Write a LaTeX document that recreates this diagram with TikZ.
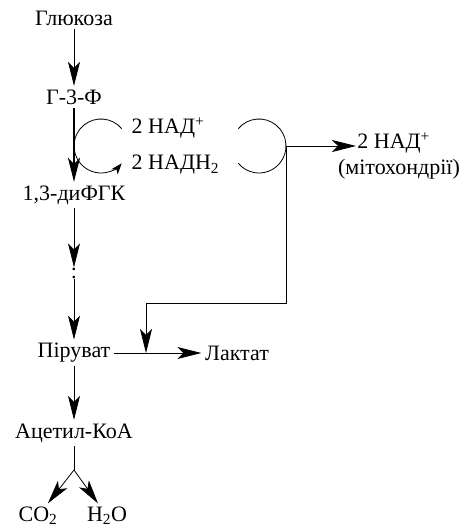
\documentclass[tikz,border=0pt]{standalone}
\usepackage{fontspec}
\setmainfont{Liberation Serif}
\usetikzlibrary{arrows.meta}

\begin{document}
\begin{tikzpicture}[x=1pt,y=1pt,font=\fontsize{22}{26}\selectfont,line width=0.8pt,
    arr/.style={-{Stealth[length=24pt,width=12pt,inset=6pt]}},
    cyc/.style={-{Stealth[length=11pt,width=8pt,inset=3pt]}}]
\useasboundingbox (0,0) rectangle (468,530);
\node (gluc) at (74,512) {Глюкоза};
\node (g3f) at (74,433) {Г-3-Ф};
\node (dfgk) at (74,335) {1,3-диФГК};
\node[inner sep=0pt] (dots) at (74,257) {:};
\node (pyr) at (74,177) {Піруват};
\node (lact) at (237,177) {Лактат};
\node (acoa) at (74,97) {Ацетил-КоА};
\node (co2) at (38,14) {CO\textsubscript{2}};
\node (h2o) at (107,14) {H\textsubscript{2}O};
\node[anchor=west] (nad) at (128,402) {2 НАД\textsuperscript{+}};
\node[anchor=west] (nadh) at (128,365) {2 НАДН\textsubscript{2}};
\node[anchor=west,inner sep=1pt] (nadm) at (356,387) {2 НАД\textsuperscript{+}};
\node[inner sep=1pt] (mito) at (399,361) {(мітохондрії)};
% main chain
\draw[arr] (gluc) -- (g3f);
\draw[arr,line width=2.6pt] (g3f) -- (dfgk);
\draw[arr] (dfgk) -- (dots);
\draw[arr] (dots) -- (pyr);
\draw[arr] (pyr) -- (lact);
\draw[arr] (pyr) -- (acoa);
\coordinate (fork) at (74,60);
\draw (acoa) -- (fork);
\draw[arr] (fork) -- (co2);
\draw[arr] (fork) -- (h2o);
% NAD cycles
\draw[cyc] (101,384) ++(40:27) arc[start angle=40,end angle=320,radius=27];
\draw (259,384) ++(140:27) arc[start angle=140,end angle=-140,radius=27];
\coordinate (rarc) at (286,384);
\coordinate (turn1) at (286,227);
\coordinate (turn2) at (146,227);
\coordinate (hit) at (146,177);
\draw[arr] (rarc) -- (rarc -| nadm.west);
\draw[arr] (rarc) -- (turn1) -- (turn2) -- (hit);
\end{tikzpicture}
\end{document}
